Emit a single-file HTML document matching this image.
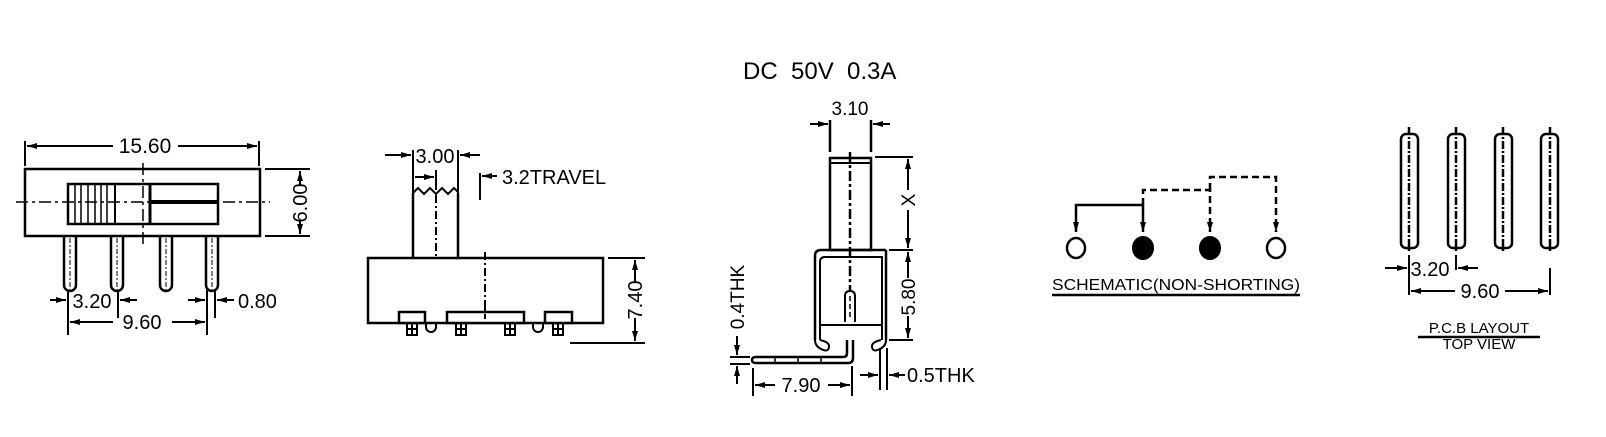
<!DOCTYPE html>
<html><head><meta charset="utf-8"><style>
html,body{margin:0;padding:0;background:#fff;}
svg{display:block;}
text{font-family:"Liberation Sans",Arial,sans-serif;fill:#000;}
</style></head><body>
<svg width="1606" height="437" viewBox="0 0 1606 437" xmlns="http://www.w3.org/2000/svg">
<defs>
<marker id="a" viewBox="0 0 10 6" refX="10" refY="3" markerWidth="10" markerHeight="6" markerUnits="userSpaceOnUse" orient="auto-start-reverse">
<path d="M0,0 L10,3 L0,6 z" fill="#000"/></marker>
</defs>
<g fill="none" stroke="#000" stroke-width="2">
<!-- Drawing 1 -->
<line x1="25" y1="141" x2="25" y2="166"/><line x1="259" y1="141" x2="259" y2="166"/>
<line x1="27" y1="146" x2="113" y2="146" marker-start="url(#a)"/>
<line x1="178" y1="146" x2="257" y2="146" marker-end="url(#a)"/>
<rect x="25" y="169" width="235" height="67" stroke-width="2.5"/>
<rect x="68" y="184" width="150" height="40" stroke-width="2.5"/>
<g stroke-width="1.5"><line x1="75" y1="184" x2="75" y2="224"/><line x1="81" y1="184" x2="81" y2="224"/><line x1="88" y1="184" x2="88" y2="224"/><line x1="95" y1="184" x2="95" y2="224"/><line x1="101" y1="184" x2="101" y2="224"/><line x1="107" y1="184" x2="107" y2="224"/></g>
<line x1="115" y1="184" x2="115" y2="224"/>
<line x1="150" y1="184" x2="150" y2="224" stroke-width="3"/>
<line x1="150" y1="202" x2="218" y2="202" stroke-width="4"/>
<line x1="16" y1="202" x2="270" y2="202" stroke-dasharray="12,4,3,4" stroke-width="1.5"/>
<line x1="143" y1="163" x2="143" y2="244" stroke-dasharray="12,4,3,4" stroke-width="1.5"/>
<line x1="265" y1="169" x2="310" y2="169"/><line x1="265" y1="236" x2="310" y2="236"/>
<line x1="300" y1="171" x2="300" y2="186" marker-start="url(#a)"/>
<line x1="300" y1="220" x2="300" y2="234" marker-end="url(#a)"/>
<g stroke-width="2.5">
<path d="M64,236 V285 a6,6 0 0 0 12,0 V236"/><path d="M111,236 V285 a6,6 0 0 0 12,0 V236"/><path d="M160,236 V285 a6,6 0 0 0 12,0 V236"/><path d="M206,236 V285 a6,6 0 0 0 12,0 V236"/>
</g>
<g stroke-width="1" stroke-dasharray="5,2,2,2"><line x1="70" y1="238" x2="70" y2="290"/><line x1="117" y1="238" x2="117" y2="290"/><line x1="166" y1="238" x2="166" y2="290"/><line x1="212" y1="238" x2="212" y2="290"/></g>
<line x1="68" y1="290" x2="68" y2="335"/><line x1="118" y1="290" x2="118" y2="318"/>
<line x1="207" y1="290" x2="207" y2="335"/><line x1="215" y1="290" x2="215" y2="318"/>
<line x1="50" y1="300" x2="66" y2="300" marker-end="url(#a)"/>
<line x1="137" y1="300" x2="120" y2="300" marker-end="url(#a)"/>
<line x1="188" y1="300" x2="205" y2="300" marker-end="url(#a)"/>
<line x1="234" y1="300" x2="217" y2="300" marker-end="url(#a)"/>
<line x1="70" y1="322" x2="113" y2="322" marker-start="url(#a)"/>
<line x1="172" y1="322" x2="205" y2="322" marker-end="url(#a)"/>

<!-- Drawing 2 -->
<line x1="413" y1="150" x2="413" y2="194"/><line x1="458" y1="150" x2="458" y2="194"/>
<line x1="385" y1="155" x2="411" y2="155" marker-end="url(#a)"/>
<line x1="480" y1="155" x2="460" y2="155" marker-end="url(#a)"/>
<line x1="415" y1="177" x2="434" y2="177" marker-end="url(#a)"/>
<line x1="436" y1="170" x2="436" y2="190"/>
<path d="M413,193 l5,-5 l6,6 l6,-6 l6,6 l6,-6 l6,6 l6,-6 l4,4" stroke-width="2"/>
<line x1="413" y1="193" x2="413" y2="258" stroke-width="2.5"/><line x1="458" y1="193" x2="458" y2="258" stroke-width="2.5"/>
<line x1="436" y1="195" x2="436" y2="258" stroke-dasharray="8,3,2,3" stroke-width="2"/>
<line x1="480" y1="173" x2="480" y2="200"/>
<line x1="497" y1="176" x2="482" y2="176" marker-end="url(#a)"/>
<rect x="368" y="258" width="235" height="65" stroke-width="2.5"/>
<line x1="485" y1="252" x2="485" y2="320" stroke-dasharray="8,3,2,3" stroke-width="2"/>
<g stroke-width="2.5" fill="#fff"><rect x="399" y="312" width="26" height="11"/><rect x="447" y="312" width="77" height="11"/><rect x="545" y="312" width="27" height="11"/></g>
<line x1="485" y1="306" x2="485" y2="322" stroke-dasharray="5,3" stroke-width="2"/>
<g stroke-width="2"><rect x="407" y="323" width="10" height="12"/><rect x="456" y="323" width="10" height="12"/><rect x="505" y="323" width="10" height="12"/><rect x="553" y="323" width="10" height="12"/>
<line x1="412" y1="323" x2="412" y2="335"/><line x1="461" y1="323" x2="461" y2="335"/><line x1="510" y1="323" x2="510" y2="335"/><line x1="558" y1="323" x2="558" y2="335"/>
<line x1="407" y1="329" x2="417" y2="329"/><line x1="456" y1="329" x2="466" y2="329"/><line x1="505" y1="329" x2="515" y2="329"/><line x1="553" y1="329" x2="563" y2="329"/>
<path d="M426,323 v4 a5,5 0 0 0 10,0 v-4"/><path d="M533,323 v4 a5,5 0 0 0 10,0 v-4"/></g>
<line x1="608" y1="258" x2="645" y2="258"/><line x1="570" y1="343" x2="645" y2="343"/>
<line x1="635" y1="260" x2="635" y2="282" marker-start="url(#a)"/>
<line x1="635" y1="318" x2="635" y2="341" marker-end="url(#a)"/>

<!-- Drawing 3 -->
<line x1="830" y1="120" x2="830" y2="152" stroke-width="2.5"/><line x1="871" y1="120" x2="871" y2="152" stroke-width="2.5"/>
<line x1="810" y1="124" x2="828" y2="124" marker-end="url(#a)"/>
<line x1="890" y1="124" x2="873" y2="124" marker-end="url(#a)"/>
<rect x="830" y="158" width="41" height="92" stroke-width="2.5"/>
<line x1="830" y1="163" x2="871" y2="163"/>
<line x1="850" y1="152" x2="850" y2="290" stroke-dasharray="10,3,3,3" stroke-width="2.5"/>
<line x1="875" y1="157" x2="913" y2="157"/>
<line x1="908" y1="159" x2="908" y2="190" marker-start="url(#a)"/>
<line x1="908" y1="210" x2="908" y2="248" marker-end="url(#a)"/>
<path d="M815,340 V256 q0,-6 6,-6 H886" stroke-width="2.5"/>
<path d="M886,250 V340" stroke-width="2.5"/>
<path d="M820,340 V262 q0,-5 5,-5 H882 V340" stroke-width="2"/>
<line x1="820" y1="325" x2="882" y2="325" stroke-width="2"/>
<path d="M845,322 V296 q0,-5 5,-5 q5,0 5,5 V322" stroke-width="2"/>
<line x1="850" y1="296" x2="850" y2="320" stroke-dasharray="5,3" stroke-width="1.5"/>
<path d="M815,340 q0,6 6,9 q8,4 8,-3 q0,-4 -9,-6" stroke-width="2"/>
<path d="M886,340 q0,6 -6,9 q-8,4 -8,-3 q0,-4 9,-6" stroke-width="2"/>
<line x1="889" y1="250" x2="913" y2="250"/><line x1="889" y1="340" x2="913" y2="340"/>
<line x1="908" y1="252" x2="908" y2="278" marker-start="url(#a)"/>
<line x1="908" y1="316" x2="908" y2="338" marker-end="url(#a)"/>
<path d="M847,340 V353 q0,4 -4,4 H756 q-4,0 -4,3 q0,3 4,3 H848 q5,0 5,-5 V340" stroke-width="2.5"/>
<line x1="775" y1="357" x2="775" y2="363" stroke-width="1.5"/><line x1="798" y1="357" x2="798" y2="363" stroke-width="1.5"/><line x1="821" y1="357" x2="821" y2="363" stroke-width="1.5"/>
<line x1="730" y1="357" x2="750" y2="357"/><line x1="730" y1="364" x2="750" y2="364"/>
<line x1="737" y1="336" x2="737" y2="355" marker-end="url(#a)"/>
<line x1="737" y1="384" x2="737" y2="366" marker-end="url(#a)"/>
<line x1="753" y1="368" x2="753" y2="396"/><line x1="852" y1="366" x2="852" y2="396"/>
<line x1="755" y1="385" x2="775" y2="385" marker-start="url(#a)"/>
<line x1="828" y1="385" x2="850" y2="385" marker-end="url(#a)"/>
<line x1="880" y1="348" x2="880" y2="390"/><line x1="887" y1="348" x2="887" y2="390"/>
<line x1="860" y1="375" x2="878" y2="375" marker-end="url(#a)"/>
<line x1="905" y1="375" x2="889" y2="375" marker-end="url(#a)"/>

<!-- Schematic -->
<path d="M1076,232 V205 H1143 V232" stroke-width="2.5" marker-start="url(#a)" marker-end="url(#a)"/>
<path d="M1143,205 V190 H1210 V232" stroke-width="2.5" stroke-dasharray="7,4" marker-end="url(#a)"/>
<path d="M1210,190 V177 H1276 V232" stroke-width="2.5" stroke-dasharray="7,4" marker-end="url(#a)"/>
<ellipse cx="1076" cy="248" rx="9" ry="10" stroke-width="2.5"/>
<ellipse cx="1143" cy="248" rx="10" ry="11" fill="#000"/>
<ellipse cx="1210" cy="248" rx="10" ry="11" fill="#000"/>
<ellipse cx="1276" cy="248" rx="9" ry="10" stroke-width="2.5"/>
<line x1="1052" y1="295" x2="1300" y2="295" stroke-width="2.5"/>

<!-- PCB -->
<g stroke-width="2.5">
<rect x="1401" y="134" width="17" height="114" rx="5"/><rect x="1448" y="134" width="17" height="114" rx="5"/><rect x="1495" y="134" width="17" height="114" rx="5"/><rect x="1541" y="134" width="17" height="114" rx="5"/>
</g>
<g stroke-width="2.5" stroke-dasharray="8,2,2,2"><line x1="1409" y1="127" x2="1409" y2="253"/><line x1="1456" y1="127" x2="1456" y2="253"/><line x1="1503" y1="127" x2="1503" y2="253"/><line x1="1550" y1="127" x2="1550" y2="253"/></g>
<line x1="1409" y1="255" x2="1409" y2="295"/><line x1="1456" y1="255" x2="1456" y2="270"/><line x1="1550" y1="268" x2="1550" y2="295"/>
<line x1="1385" y1="268" x2="1407" y2="268" marker-end="url(#a)"/>
<line x1="1478" y1="268" x2="1458" y2="268" marker-end="url(#a)"/>
<line x1="1411" y1="291" x2="1455" y2="291" marker-start="url(#a)"/>
<line x1="1505" y1="291" x2="1548" y2="291" marker-end="url(#a)"/>
<line x1="1418" y1="337" x2="1540" y2="337" stroke-width="2.5"/>
</g>
<g font-size="20">
<text x="145" y="153" text-anchor="middle" font-size="21">15.60</text>
<text transform="translate(307,203) rotate(-90)" text-anchor="middle">6.00</text>
<text x="92" y="308" text-anchor="middle">3.20</text>
<text x="142" y="329" text-anchor="middle">9.60</text>
<text x="238" y="308">0.80</text>
<text x="435" y="163" text-anchor="middle">3.00</text>
<text x="502" y="184">3.2TRAVEL</text>
<text transform="translate(642,300) rotate(-90)" text-anchor="middle">7.40</text>
<text x="743" y="79" font-size="24" style="white-space:pre">DC  50V  0.3A</text>
<text x="850" y="115" text-anchor="middle" font-size="19">3.10</text>
<text transform="translate(915,200) rotate(-90)" text-anchor="middle" font-size="19">X</text>
<text transform="translate(915,297) rotate(-90)" text-anchor="middle" font-size="19">5.80</text>
<text transform="translate(744,297) rotate(-90)" text-anchor="middle" font-size="19">0.4THK</text>
<text x="801" y="392" text-anchor="middle">7.90</text>
<text x="907" y="382">0.5THK</text>
<text x="1052" y="290" font-size="16" textLength="248" lengthAdjust="spacingAndGlyphs">SCHEMATIC(NON-SHORTING)</text>
<text x="1430" y="276" text-anchor="middle">3.20</text>
<text x="1480" y="298" text-anchor="middle">9.60</text>
<text x="1479" y="333" text-anchor="middle" font-size="15">P.C.B LAYOUT</text>
<text x="1479" y="349" text-anchor="middle" font-size="15">TOP VIEW</text>
</g>
</svg>
</body></html>
